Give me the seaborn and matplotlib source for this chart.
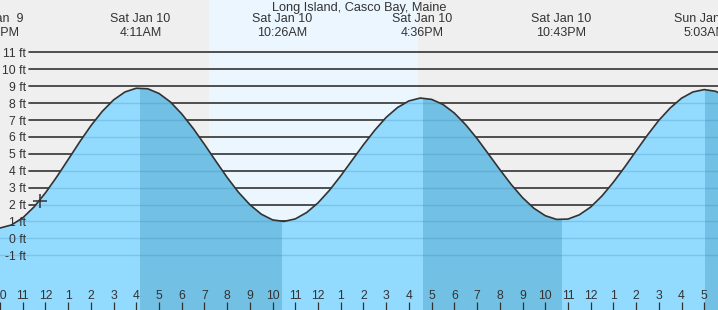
import numpy as np
import pandas as pd
import matplotlib
matplotlib.use("Agg")
import matplotlib.pyplot as plt
import seaborn as sns

# ---------------- data (hours relative to Sat Jan 10 00:00) ----------------
title = "Long Island, Casco Bay, Maine"

sample_hours = np.arange(-2.0, 30.01, 0.5)
tide_ft = [0.61, 0.79, 1.21, 1.86, 2.69, 3.64, 4.66, 5.69, 6.66, 7.51, 8.19, 8.66, 8.88,
           8.85, 8.57, 8.07, 7.36, 6.51, 5.56, 4.57, 3.60, 2.72, 1.99, 1.43, 1.09,
           1.00, 1.15, 1.53, 2.10, 2.84, 3.70, 4.62, 5.54, 6.40, 7.16, 7.74, 8.13, 8.30,
           8.22, 7.92, 7.41, 6.72, 5.90, 4.99, 4.07, 3.19, 2.41, 1.78, 1.34, 1.12,
           1.14, 1.39, 1.85, 2.51, 3.32, 4.22, 5.17, 6.11, 6.98, 7.71, 8.29, 8.66, 8.80,
           8.70, 8.36]

extreme_hours = [-2.1, 4.183, 10.433, 16.6, 22.717, 29.05]
extreme_day = ["Fri Jan  9", "Sat Jan 10", "Sat Jan 10", "Sat Jan 10", "Sat Jan 10", "Sun Jan 11"]
extreme_time = ["9:54PM", "4:11AM", "10:26AM", "4:36PM", "10:43PM", "5:03AM"]

# falling-tide (ebb) periods: high -> next low
ebb_start = [4.183, 16.6, 29.05]
ebb_end = [10.433, 22.717, 35.3]

daylight = [7.22, 16.40]          # sunrise, sunset

now_hour = [-0.25]
now_ft = [2.2]

levels = [-1, 0, 1, 2, 3, 4, 5, 6, 7, 8, 9, 10, 11]
level_labels = [f"{v} ft" for v in levels]

tick_hours = list(range(-2, 30))
tick_labels = [str((h % 12) or 12) for h in tick_hours]
bold_ticks = [0, 12, 24]

# ---------------- style ----------------
sns.set_style("white")
plt.rcParams['font.family'] = ['Liberation Sans', 'DejaVu Sans']

W, H = 718, 310
fig = plt.figure(figsize=(W / 100, H / 100), dpi=100)
ax = fig.add_axes([0, 0, 1, 1])
ax.set_facecolor("#efefef")

ax.set_xlim(-1.90, 29.605)
ax.set_ylim(-4.24, 14.10)

ink = "#333333"

ax.axvspan(daylight[0], daylight[1], color="#ebf6ff", lw=0, zorder=0.1)

for lvl in levels:
    ax.axhline(lvl, xmin=29 / W, xmax=1, color=ink, lw=1.2, zorder=0.3)

df = pd.DataFrame({"hour": sample_hours, "height": tide_ft})

poly = ax.fill_between(df["hour"], df["height"], -6, color="#92dbfe", lw=0, zorder=1)
clip = poly.get_paths()[0]

for a, b in zip(ebb_start, ebb_end):
    r = ax.axvspan(a, b, color="#72c0e4", lw=0, zorder=1.1)
    r.set_clip_path(clip, ax.transData)

for lvl in levels:
    ln = ax.axhline(lvl, color=(0.2, 0.5, 0.7, 0.25), lw=1.0, zorder=1.2)
    ln.set_clip_path(clip, ax.transData)

sns.lineplot(data=df, x="hour", y="height", color=ink, lw=1.2, ax=ax, zorder=2, legend=False)
ax.plot(now_hour, now_ft, marker="+", ms=10, mew=1.1, color=ink, ls="none", zorder=2.1)

# axes/ticks
ax.set_axisbelow(False)
for s in ax.spines.values():
    s.set_visible(False)
ax.set_xlabel("")
ax.set_ylabel("")

ax.set_xticks(tick_hours)
ax.set_xticklabels(tick_labels)
ax.set_xticks(bold_ticks, minor=True)
ax.tick_params(axis="x", which="major", direction="in", length=5.8, width=0.9, color=ink,
               pad=-14.2, labelsize=8.8, labelcolor=ink, bottom=True)
ax.tick_params(axis="x", which="minor", direction="in", length=5.8, width=2.3, color=ink,
               bottom=True)

ax.set_yticks(levels)
ax.set_yticklabels(level_labels)
ax.tick_params(axis="y", length=0, pad=-18.8, labelsize=8.8, labelcolor=ink, left=True)
for lab in ax.get_yticklabels():
    lab.set_horizontalalignment("right")

# texts
fig.text(0.5, 1 - 7.5 / H, title, ha="center", va="center", fontsize=9.2, color=ink)
trans = ax.get_xaxis_transform()
for hr, d, tm in zip(extreme_hours, extreme_day, extreme_time):
    ax.text(hr, 1 - 19.5 / H, d, transform=trans, ha="center", va="center", fontsize=9, color=ink, zorder=3)
    ax.text(hr, 1 - 32.5 / H, tm, transform=trans, ha="center", va="center", fontsize=9, color=ink, zorder=3)

fig.savefig("out.png", dpi=100)
